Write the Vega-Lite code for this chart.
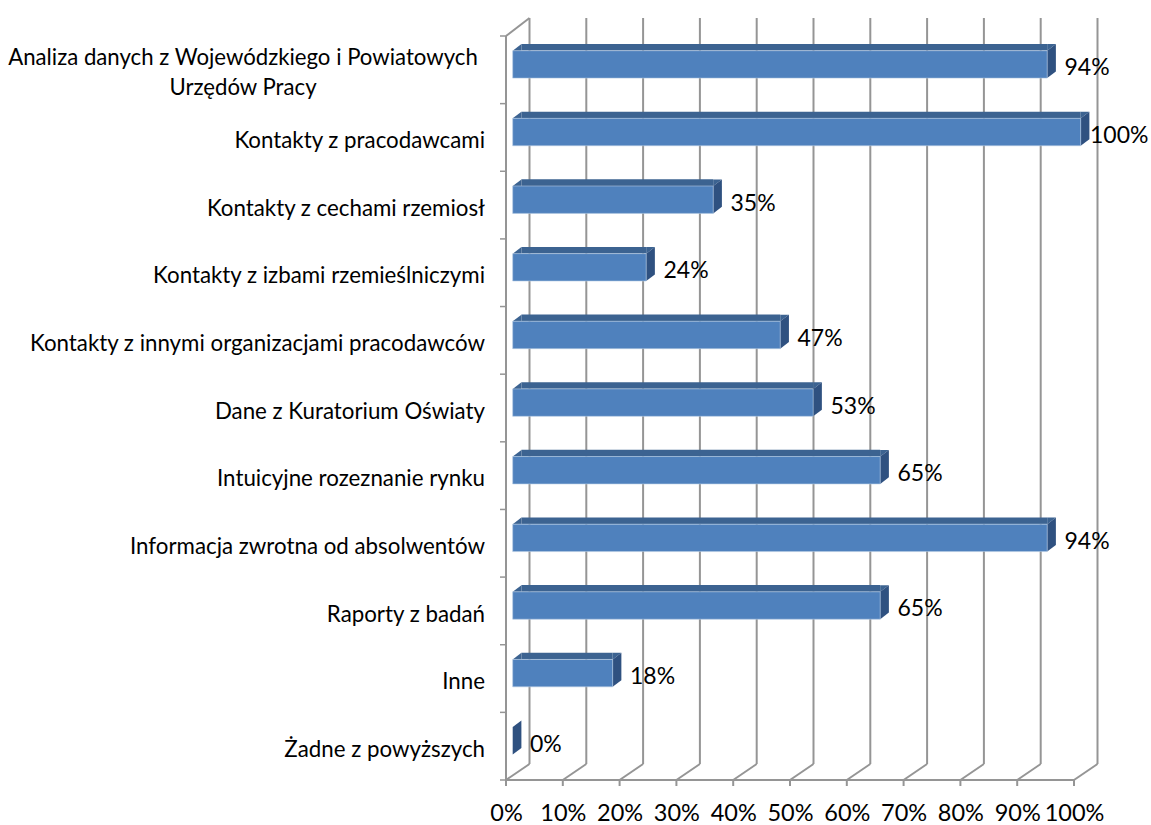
{"$schema":"https://vega.github.io/schema/vega-lite/v6.json","width":568,"height":744,"autosize":"none","padding":{"left":506,"top":36,"right":77,"bottom":45},"background":"white","config":{"view":{"stroke":null},"font":"Lato"},
"datasets":{"bars":[{"label":"Analiza danych z Wojewódzkiego i Powiatowych \nUrzędów Pracy","start":0,"value":94.1,"pos":0.5,"pct":"94%"},{"label":"Kontakty z pracodawcami","start":0,"value":100,"pos":1.5,"pct":"100%"},{"label":"Kontakty z cechami rzemiosł","start":0,"value":35.3,"pos":2.5,"pct":"35%"},{"label":"Kontakty z izbami rzemieślniczymi","start":0,"value":23.5,"pos":3.5,"pct":"24%"},{"label":"Kontakty z innymi organizacjami pracodawców","start":0,"value":47.1,"pos":4.5,"pct":"47%"},{"label":"Dane z Kuratorium Oświaty","start":0,"value":52.9,"pos":5.5,"pct":"53%"},{"label":"Intuicyjne rozeznanie rynku","start":0,"value":64.7,"pos":6.5,"pct":"65%"},{"label":"Informacja zwrotna od absolwentów","start":0,"value":94.1,"pos":7.5,"pct":"94%"},{"label":"Raporty z badań","start":0,"value":64.7,"pos":8.5,"pct":"65%"},{"label":"Inne","start":0,"value":17.6,"pos":9.5,"pct":"18%"},{"label":"Żadne z powyższych","start":0,"value":0,"pos":10.5,"pct":"0%"}],
"grid":[{"v":0,"top":0,"floor":11},{"v":10,"top":0,"floor":11},{"v":20,"top":0,"floor":11},{"v":30,"top":0,"floor":11},{"v":40,"top":0,"floor":11},{"v":50,"top":0,"floor":11},{"v":60,"top":0,"floor":11},{"v":70,"top":0,"floor":11},{"v":80,"top":0,"floor":11},{"v":90,"top":0,"floor":11},{"v":100,"top":0,"floor":11}],
"walls":[{"t":0,"a":0},{"t":1,"a":0},{"t":2,"a":0},{"t":3,"a":0},{"t":4,"a":0},{"t":5,"a":0},{"t":6,"a":0},{"t":7,"a":0},{"t":8,"a":0},{"t":9,"a":0},{"t":10,"a":0},{"t":11,"a":0}]},
"layer":[
{"data":{"name":"grid"},"mark":{"type":"rule","color":"#959595","strokeWidth":2,"xOffset":23.5,"x2Offset":23.5,"yOffset":-18,"y2Offset":-16},"encoding":{"x":{"field":"v","type":"quantitative","scale":{"domain":[0,100],"nice":false,"padding":0},"axis":{"values":[0,10,20,30,40,50,60,70,80,90,100],"labelExpr":"datum.value+'%'","grid":false,"domain":false,"ticks":false,"title":null,"labelFontSize":23.5,"labelFont":"Lato","labelColor":"#000000","labelPadding":21,"labelOverlap":false,"labelBound":false,"labelFlush":false}},"y":{"field":"top","type":"quantitative","scale":{"domain":[0,11],"reverse":true,"nice":false,"zero":false,"padding":0},"axis":null},"y2":{"field":"floor"}}},
{"data":{"name":"grid"},"mark":{"type":"rule","color":"#959595","strokeWidth":2,"x2Offset":23.5,"y2Offset":-16},"encoding":{"x":{"field":"v","type":"quantitative"},"x2":{"field":"v"},"y":{"field":"floor","type":"quantitative"},"y2":{"field":"floor"}}},
{"data":{"name":"grid"},"mark":{"type":"rule","color":"#959595","strokeWidth":2,"y2Offset":6},"encoding":{"x":{"field":"v","type":"quantitative"},"y":{"field":"floor","type":"quantitative"},"y2":{"field":"floor"}}},
{"data":{"values":[{"a":0,"b":100,"f":11,"t":0}]},"mark":{"type":"rule","color":"#959595","strokeWidth":2},"encoding":{"x":{"field":"a","type":"quantitative"},"x2":{"field":"b"},"y":{"field":"f","type":"quantitative"}}},
{"data":{"values":[{"a":0,"b":100,"f":11,"t":0}]},"mark":{"type":"rule","color":"#959595","strokeWidth":2},"encoding":{"x":{"field":"a","type":"quantitative"},"y":{"field":"t","type":"quantitative"},"y2":{"field":"f"}}},
{"data":{"values":[{"a":0,"b":100,"f":11,"t":0}]},"mark":{"type":"rule","color":"#959595","strokeWidth":2,"x2Offset":23.5,"y2Offset":-18},"encoding":{"x":{"field":"a","type":"quantitative"},"x2":{"field":"a"},"y":{"field":"t","type":"quantitative"},"y2":{"field":"t"}}},
{"data":{"name":"walls"},"mark":{"type":"rule","color":"#959595","strokeWidth":1.5,"xOffset":-6},"encoding":{"x":{"field":"a","type":"quantitative"},"x2":{"field":"a"},"y":{"field":"t","type":"quantitative"}}},
{"data":{"name":"bars"},"transform":[{"filter":"datum.value>0"}],"mark":{"type":"bar","orient":"horizontal","color":"#3C6391","height":6.6,"xOffset":15.4,"x2Offset":6.7,"yOffset":-22.5},"encoding":{"x":{"field":"start","type":"quantitative"},"x2":{"field":"value"},"y":{"field":"pos","type":"quantitative"}}},
{"data":{"name":"bars"},"transform":[{"filter":"datum.value>0"}],"mark":{"type":"point","filled":true,"color":"#3C6391","opacity":1,"size":4,"xOffset":6.7,"yOffset":-5.4,"shape":"M0,-13.7L8.7,-20.3L0,-20.3Z"},"encoding":{"x":{"field":"value","type":"quantitative"},"y":{"field":"pos","type":"quantitative"}}},
{"data":{"name":"bars"},"transform":[{"filter":"datum.value>0"}],"mark":{"type":"point","filled":true,"color":"#3C6391","opacity":1,"size":4,"xOffset":6.7,"yOffset":-5.4,"shape":"M0,-13.7L8.7,-20.3L8.7,-13.7Z"},"encoding":{"x":{"field":"start","type":"quantitative"},"y":{"field":"pos","type":"quantitative"}}},
{"data":{"name":"bars"},"mark":{"type":"point","filled":true,"color":"#2F5180","opacity":1,"size":4,"xOffset":6.7,"yOffset":-5.4,"shape":"M0,-13.7L8.7,-20.3L8.7,7.1L0,13.7Z"},"encoding":{"x":{"field":"value","type":"quantitative"},"y":{"field":"pos","type":"quantitative"}}},
{"data":{"name":"bars"},"transform":[{"filter":"datum.value>0"}],"mark":{"type":"bar","orient":"horizontal","color":"#4F81BD","stroke":"#B4C9E3","strokeWidth":0.6,"height":27.4,"xOffset":6.7,"x2Offset":6.7,"yOffset":-5.4},"encoding":{"x":{"field":"start","type":"quantitative"},"x2":{"field":"value"},"y":{"field":"pos","type":"quantitative"}}},
{"data":{"name":"bars"},"transform":[{"filter":"indexof(datum.label,'Analiza')<0"}],"mark":{"type":"text","align":"right","baseline":"middle","dx":-21,"dy":3.6,"fontSize":22.3,"color":"#000000","font":"Lato"},"encoding":{"x":{"field":"start","type":"quantitative"},"y":{"field":"pos","type":"quantitative"},"text":{"field":"label","type":"nominal"}}},
{"data":{"name":"bars"},"transform":[{"filter":"indexof(datum.label,'Analiza')>=0"}],"mark":{"type":"text","align":"center","baseline":"middle","dx":-263,"dy":-12,"fontSize":22.2,"lineHeight":30,"lineBreak":"\n","color":"#000000","font":"Lato"},"encoding":{"x":{"field":"start","type":"quantitative"},"y":{"field":"pos","type":"quantitative"},"text":{"field":"label","type":"nominal"}}},
{"data":{"name":"bars"},"transform":[{"filter":"datum.value<100"}],"mark":{"type":"text","align":"left","baseline":"middle","dx":24,"dy":-1.5,"fontSize":23,"color":"#000000","font":"Lato"},"encoding":{"x":{"field":"value","type":"quantitative"},"y":{"field":"pos","type":"quantitative"},"text":{"field":"pct","type":"nominal"}}},
{"data":{"name":"bars"},"transform":[{"filter":"datum.value==100"}],"mark":{"type":"text","align":"left","baseline":"middle","dx":16,"dy":-1.5,"fontSize":23,"color":"#000000","font":"Lato"},"encoding":{"x":{"field":"value","type":"quantitative"},"y":{"field":"pos","type":"quantitative"},"text":{"field":"pct","type":"nominal"}}}
]}
